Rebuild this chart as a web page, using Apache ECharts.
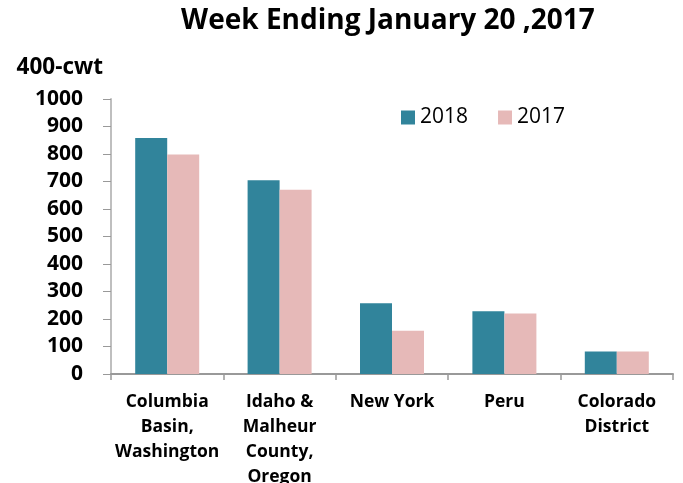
<!DOCTYPE html>
<html>
<head>
<meta charset="utf-8">
<script src="https://cdn.jsdelivr.net/npm/echarts@6/dist/echarts.min.js"></script>
<style>
  html, body { margin: 0; padding: 0; background: #fff; }
  #main { width: 683px; height: 483px; }
</style>
</head>
<body>
<div id="main"></div>
<script>
var categories = ['Columbia\nBasin,\nWashington', 'Idaho &\nMalheur\nCounty,\nOregon', 'New York', 'Peru', 'Colorado\nDistrict'];
var values2018 = [858, 705, 257, 228, 82];
var values2017 = [798, 670, 157, 220, 82];
var yTicks = [0, 1000, 100];

var myChart = echarts.init(document.getElementById('main'));

var font = '"Open Sans", "Liberation Sans", sans-serif';

var option = {
    animation: false,
    title: {
        text: 'Week Ending January 20 ,2017',
        left: 383,
        textAlign: 'center',
        top: 2,
        textStyle: { fontFamily: font, fontSize: 28, fontWeight: 'bold', color: '#000' }
    },
    legend: {
        data: ['2018', '2017'],
        left: 396,
        top: 102,
        itemWidth: 14,
        itemHeight: 14,
        itemGap: 30,
        icon: 'rect',
        textStyle: { fontFamily: font, fontSize: 21, color: '#000' }
    },
    grid: { left: 111, right: 10, top: 99, bottom: 109, outerBoundsMode: 'none' },
    xAxis: {
        type: 'category',
        data: categories,
        axisLine: { lineStyle: { color: '#999', width: 2 } },
        axisTick: { show: true, length: 6, lineStyle: { color: '#999', width: 1.5 } },
        axisLabel: {
            interval: 0,
            margin: 16,
            fontFamily: font,
            fontSize: 17.5,
            fontWeight: 'bold',
            color: '#000',
            lineHeight: 25
        }
    },
    yAxis: {
        type: 'value',
        name: '400-cwt',
        nameLocation: 'end',
        nameGap: 20,
        nameTextStyle: { fontFamily: font, fontSize: 22.5, fontWeight: 'bold', color: '#000', align: 'right', padding: [0, 8, 0, 0] },
        min: yTicks[0],
        max: yTicks[1],
        interval: yTicks[2],
        axisLine: { show: true, lineStyle: { color: '#bfbfbf', width: 2 } },
        axisTick: { show: true, length: 8, lineStyle: { color: '#999' } },
        splitLine: { show: false },
        axisLabel: {
            margin: 28,
            fontFamily: font,
            fontSize: 21,
            fontWeight: 'bold',
            color: '#000',
            formatter: function (v) { return String(v); }
        }
    },
    series: [{
        name: '2018',
        type: 'bar',
        data: values2018,
        barWidth: 32,
        barGap: '0%',
        itemStyle: { color: '#31849b' }
    }, {
        name: '2017',
        type: 'bar',
        data: values2017,
        barWidth: 32,
        itemStyle: { color: '#e6b9b8' }
    }]
};

myChart.setOption(option);
</script>
</body>
</html>
